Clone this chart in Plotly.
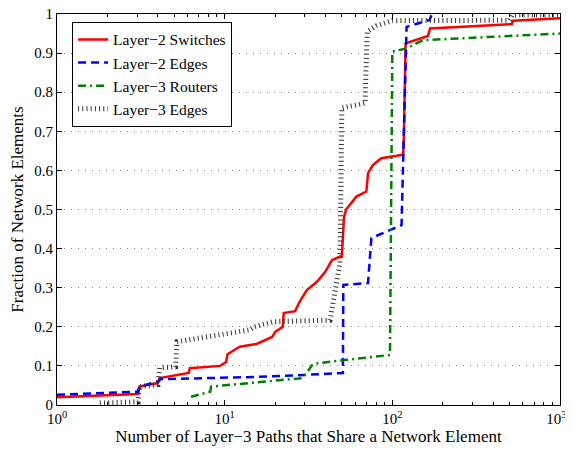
import plotly.graph_objects as go

# Layer-2 Switches
sw_x = [1, 3.05, 3.1, 4.0, 4.1, 6.1, 6.2, 9.4, 10.2, 10.4, 12.3, 15.5, 19.2, 20, 22.2, 22.5,
        26.3, 28, 30.9, 35.5, 39.7, 43.6, 48.8, 50, 51.5, 53, 61, 70, 71.6, 76.7, 86, 116,
        117, 120, 163, 168, 515, 525, 1000]
sw_y = [0.02, 0.028, 0.047, 0.056, 0.069, 0.082, 0.094, 0.10, 0.11, 0.13, 0.149, 0.156, 0.174,
        0.187, 0.20, 0.235, 0.24, 0.264, 0.294, 0.315, 0.34, 0.37, 0.38, 0.38, 0.48, 0.50,
        0.533, 0.546, 0.593, 0.614, 0.631, 0.64, 0.678, 0.925, 0.944, 0.963, 0.974, 0.983, 0.989]

# Layer-2 Edges
le_x = [1, 3.05, 3.1, 4.0, 4.1, 16, 30, 50.7, 51, 71.6, 75, 113.5, 121.6, 167, 172]
le_y = [0.026, 0.034, 0.047, 0.06, 0.066, 0.072, 0.077, 0.082, 0.307, 0.312, 0.427, 0.46,
        0.967, 0.985, 1.0]

# Layer-3 Routers
rt_x = [6.3, 8.2, 8.3, 29.3, 30.8, 33.6, 52, 96.8, 100, 121.6, 152, 1000]
rt_y = [0.021, 0.034, 0.047, 0.069, 0.082, 0.105, 0.115, 0.128, 0.904, 0.912, 0.933, 0.95]

# Layer-3 Edges
e3_x = [1.8, 3.05, 3.1, 4.0, 4.1, 5.1, 5.2, 14.1, 15, 19.4, 42.5, 48.7, 50, 68.7, 70.8, 80.6,
        100, 500, 520, 1000]
e3_y = [0.005, 0.008, 0.047, 0.052, 0.095, 0.098, 0.162, 0.192, 0.2, 0.213, 0.217, 0.363,
        0.76, 0.772, 0.955, 0.97, 0.983, 0.984, 0.997, 0.998]

names = ["Layer\u22122 Switches", "Layer\u22122 Edges", "Layer\u22123 Routers", "Layer\u22123 Edges"]

x_tickvals = [1, 10, 100, 1000]
x_ticktext = ["10<sup>0</sup>", "10<sup>1</sup>", "10<sup>2</sup>",
              "10<sup>3</sup>\u00a0\u00a0"]
y_tickvals = [0, 0.1, 0.2, 0.3, 0.4, 0.5, 0.6, 0.7, 0.8, 0.9, 1]
y_ticktext = ["0", "0.1", "0.2", "0.3", "0.4", "0.5", "0.6", "0.7", "0.8", "0.9", "1"]
minor_vals = [m * d for d in (1, 10, 100) for m in range(2, 10)]

FONT = "Liberation Serif, Times New Roman, serif"

fig = go.Figure()
fig.add_trace(go.Scatter(x=sw_x, y=sw_y, mode="lines", name=names[0],
                         line=dict(color="#ff0000", width=2.5)))
fig.add_trace(go.Scatter(x=le_x, y=le_y, mode="lines", name=names[1],
                         line=dict(color="#0000ff", width=2.5, dash="8px,5px")))
fig.add_trace(go.Scatter(x=rt_x, y=rt_y, mode="lines", name=names[2],
                         line=dict(color="#008000", width=2.5, dash="8px,4px,2px,4px")))
fig.add_trace(go.Scatter(x=e3_x, y=e3_y, mode="lines", name=names[3],
                         line=dict(color="#333333", width=5, dash="1px,3.2px")))

# page body has an 8px default margin, so the figure is sized to fit inside the window
fig.update_layout(
    width=565, height=444,
    margin=dict(l=49, r=13, t=6, b=47, autoexpand=False),
    paper_bgcolor="white", plot_bgcolor="white",
    font=dict(family=FONT, size=15, color="black"),
    showlegend=True,
    legend=dict(x=0.03, y=0.98, xanchor="left", yanchor="top",
                bgcolor="white", bordercolor="black", borderwidth=1,
                font=dict(family=FONT, size=15.5), tracegroupgap=0),
    xaxis=dict(type="log", range=[0, 3], tickvals=x_tickvals, ticktext=x_ticktext,
               ticks="inside", ticklen=5, tickcolor="black", showline=True,
               linecolor="black", linewidth=1, mirror="ticks", showgrid=False,
               zeroline=False, automargin=False,
               ticklabeloverflow="allow",
               minor=dict(tickvals=minor_vals, ticks="inside", ticklen=3,
                          tickcolor="black", showgrid=False),
               title=dict(text="Number of Layer\u22123 Paths that Share a Network Element",
                          font=dict(family=FONT, size=17), standoff=2),
               tickfont=dict(family=FONT, size=15)),
    yaxis=dict(range=[0, 1], tickvals=y_tickvals, ticktext=y_ticktext,
               ticks="inside", ticklen=5, tickcolor="black", showline=True,
               linecolor="black", linewidth=1, mirror="ticks",
               showgrid=True, gridcolor="#888888", griddash="1px,6px", gridwidth=1,
               zeroline=False, automargin=False, ticklabeloverflow="allow",
               title=dict(text="Fraction of Network Elements",
                          font=dict(family=FONT, size=17), standoff=6),
               tickfont=dict(family=FONT, size=15)),
)

fig.write_html("out.html")
